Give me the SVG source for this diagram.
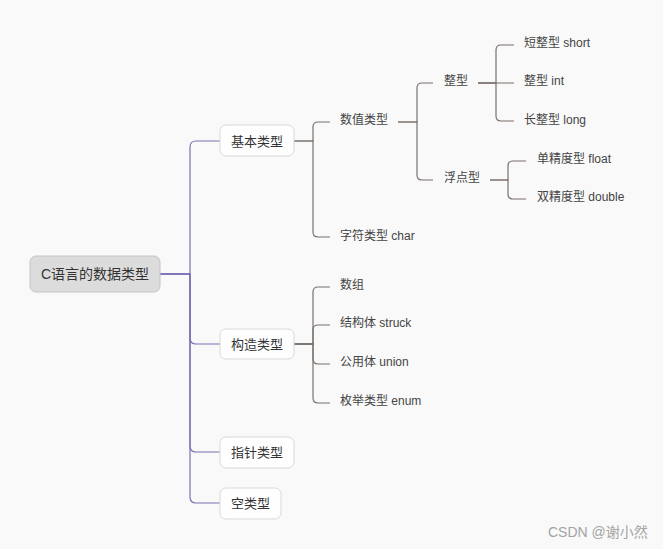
<svg xmlns="http://www.w3.org/2000/svg" width="663" height="549" viewBox="0 0 663 549">
<style>
text{font-family:"Liberation Sans","Noto Sans CJK SC",sans-serif;}
.root{fill:#dcdcdc;stroke:#c4c4c4;stroke-width:1}
.box{fill:#fefefe;stroke:#d9d9d9;stroke-width:1}
.t14{font-size:14px;fill:#333;text-anchor:middle}
.t13{font-size:13px;fill:#333;text-anchor:middle}
.t12{font-size:12px;fill:#444}
.p{fill:none;stroke:#7c6fb4;stroke-width:1.2}
.g{fill:none;stroke:#7a716c;stroke-width:1.2}
.wm{font-size:14px;fill:#a3a3a3}
</style>
<rect width="663" height="549" fill="#f9f9f9"/>
<g id="connectors">
<path class="p" d="M160,274 H190 V147 Q190,141 196,141 H220"/>
<path class="p" d="M160,274 H190 V338 Q190,344 196,344 H220"/>
<path class="p" d="M160,274 H190 V446 Q190,452 196,452 H220"/>
<path class="p" d="M160,274 H190 V497 Q190,503 196,503 H220"/>
<path class="g" d="M294,141 H313 V127 Q313,122 318,122 H330"/>
<path class="g" d="M294,141 H313 V232 Q313,237 318,237 H330"/>
<path class="g" d="M398,122 H417 V88 Q417,83 422,83 H433"/>
<path class="g" d="M398,122 H417 V175 Q417,180 422,180 H433"/>
<path class="g" d="M478,83 H496 V50 Q496,45 501,45 H514"/>
<path class="g" d="M478,83 H514"/>
<path class="g" d="M478,83 H496 V116 Q496,121 501,121 H514"/>
<path class="g" d="M490,180 H508 V166 Q508,161 513,161 H526"/>
<path class="g" d="M490,180 H508 V194 Q508,199 513,199 H526"/>
<path class="g" d="M294,344 H313 V292 Q313,287 318,287 H330"/>
<path class="g" d="M294,344 H313 V330 Q313,325 318,325 H330"/>
<path class="g" d="M294,344 H313 V359 Q313,364 318,364 H330"/>
<path class="g" d="M294,344 H313 V398 Q313,403 318,403 H330"/>
</g>
<g id="root"><rect class="root" x="30" y="256" width="130" height="36" rx="6"/><text class="t14" x="95" y="279">C语言的数据类型</text></g>
<g id="basic"><rect class="box" x="220" y="125" width="74" height="31" rx="6"/><text class="t13" x="257" y="145.5">基本类型</text></g>
<g id="construct"><rect class="box" x="220" y="329" width="74" height="30" rx="6"/><text class="t13" x="257" y="348.5">构造类型</text></g>
<g id="pointer"><rect class="box" x="220" y="437" width="74" height="31" rx="6"/><text class="t13" x="257" y="457">指针类型</text></g>
<g id="void"><rect class="box" x="220" y="488" width="61" height="31" rx="6"/><text class="t13" x="250.5" y="508">空类型</text></g>
<g id="numeric"><text class="t12" x="340" y="124">数值类型</text></g>
<g id="char"><text class="t12" x="340" y="240">字符类型 char</text></g>
<g id="integer"><text class="t12" x="444" y="85">整型</text></g>
<g id="floating"><text class="t12" x="444" y="182">浮点型</text></g>
<g id="short"><text class="t12" x="524" y="47">短整型 short</text></g>
<g id="int"><text class="t12" x="524" y="85">整型 int</text></g>
<g id="long"><text class="t12" x="524" y="124">长整型 long</text></g>
<g id="float"><text class="t12" x="537" y="163">单精度型 float</text></g>
<g id="double"><text class="t12" x="537" y="201">双精度型 double</text></g>
<g id="array"><text class="t12" x="340" y="289">数组</text></g>
<g id="struct"><text class="t12" x="340" y="327">结构体 struck</text></g>
<g id="union"><text class="t12" x="340" y="366">公用体 union</text></g>
<g id="enum"><text class="t12" x="340" y="405">枚举类型 enum</text></g>
<text class="wm" x="548" y="537">CSDN @谢小然</text>
</svg>
